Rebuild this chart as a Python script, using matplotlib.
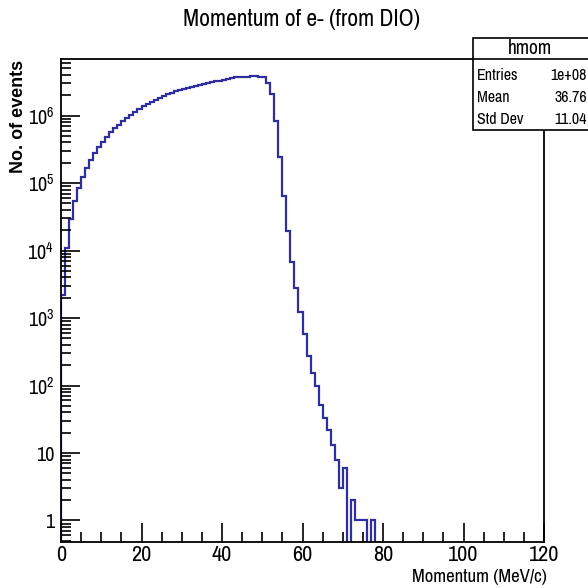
import numpy as np
import matplotlib
matplotlib.use("Agg")
import matplotlib.pyplot as plt
from matplotlib.ticker import MultipleLocator, LogLocator, FixedLocator, FixedFormatter, NullFormatter
from matplotlib.patches import Rectangle
from matplotlib.lines import Line2D

plt.rcParams['font.family'] = ['Archivo Narrow', 'Liberation Sans', 'DejaVu Sans']
plt.rcParams['mathtext.fontset'] = 'custom'
plt.rcParams['mathtext.rm'] = 'Archivo Narrow'
plt.rcParams['mathtext.it'] = 'Archivo Narrow'

# hmom: 120 bins of 1 MeV/c between 0 and 120
bin_edges = np.arange(0, 121, 1)
rise = [2200, 11000, 29400, 54500, 84000, 122000, 166000, 221000, 283000, 340000,
        412000, 489000, 568000, 650000, 736000, 834000, 934000, 1035000, 1146000, 1257000,
        1378000, 1490000, 1610000, 1730000, 1830000, 1940000, 2060000, 2170000, 2280000, 2370000,
        2460000, 2560000, 2660000, 2760000, 2870000, 2970000, 3060000, 3150000, 3230000, 3310000,
        3400000, 3500000, 3590000, 3690000]
peak = [3760000, 3780000, 3790000, 3800000, 3800000, 3790000, 3770000]
fall = [3080000, 2070000, 834000, 242000, 64500, 19800, 6730, 2770, 1250, 583,
        278, 153, 100, 52, 33, 22, 13, 8, 3, 6,
        0, 2, 1, 1, 1, 0, 1]
counts = np.array(rise + peak + fall + [0] * (120 - len(rise) - len(peak) - len(fall)), dtype=float)

stat_names = ["Entries", "Mean", "Std Dev"]
stat_values = ["1e+08", "36.76", "11.04"]
hist_name = "hmom"

ytick_vals = [1, 10, 1e2, 1e3, 1e4, 1e5, 1e6]
ytick_labels = ["1", "10", r"$10^{2}$", r"$10^{3}$", r"$10^{4}$", r"$10^{5}$", r"$10^{6}$"]

W = 588.0
fig = plt.figure(figsize=(5.88, 5.88), dpi=100)
ax = fig.add_axes([61 / W, 1 - 542 / W, (544 - 61) / W, (542 - 59) / W])

# empty bins drop below the axis floor
plot_counts = np.where(counts > 0, counts, 1e-3)
ax.stairs(plot_counts, bin_edges, baseline=1e-3, color='#2e2e9e', lw=1.6)

ax.set_yscale('log')
ax.set_xlim(0, 120)
ax.set_ylim(0.48, 6.9e6)

ax.xaxis.set_major_locator(MultipleLocator(20))
ax.xaxis.set_minor_locator(MultipleLocator(5))
ax.yaxis.set_major_locator(FixedLocator(ytick_vals))
ax.yaxis.set_major_formatter(FixedFormatter(ytick_labels))
ax.yaxis.set_minor_locator(LogLocator(base=10, subs=np.arange(2, 10), numticks=20))
ax.yaxis.set_minor_formatter(NullFormatter())

ax.tick_params(which='both', direction='in', top=False, right=False, width=1.2)
ax.tick_params(which='major', length=14)
ax.tick_params(which='minor', length=7)
ax.tick_params(axis='x', pad=2, labelsize=16)
ax.tick_params(axis='y', pad=5, labelsize=14.5)
for s in ax.spines.values():
    s.set_linewidth(1.3)

fig.text(302 / W, 1 - 19 / W, "Momentum of e- (from DIO)", ha='center', va='center', fontsize=17)
fig.text(547 / W, 1 - 577 / W, "Momentum (MeV/c)", ha='right', va='center', fontsize=13.5)
fig.text(19 / W, 1 - 60 / W, "No. of events", ha='center', va='top', rotation=90,
         fontsize=13, fontweight='bold', family=['Liberation Sans', 'DejaVu Sans'])

# statistics box
box_l, box_t, box_b = 473, 38, 130
fig.patches.append(Rectangle((box_l / W, 1 - box_b / W), (600 - box_l) / W, (box_b - box_t) / W,
                             transform=fig.transFigure, facecolor='white', edgecolor='black',
                             lw=1.2, zorder=5))
fig.lines.append(Line2D([box_l / W, 1], [1 - 59 / W, 1 - 59 / W], transform=fig.transFigure,
                        color='black', lw=1.2, zorder=6))
fig.text(530 / W, 1 - 48.5 / W, hist_name, ha='center', va='center', fontsize=14, zorder=7)
for i, (name, val) in enumerate(zip(stat_names, stat_values)):
    yy = 1 - (76 + 22 * i) / W
    fig.text(477 / W, yy, name, ha='left', va='center', fontsize=11.5, zorder=7)
    fig.text(587 / W, yy, val, ha='right', va='center', fontsize=11.5, zorder=7)

fig.savefig("out.png", dpi=100)
